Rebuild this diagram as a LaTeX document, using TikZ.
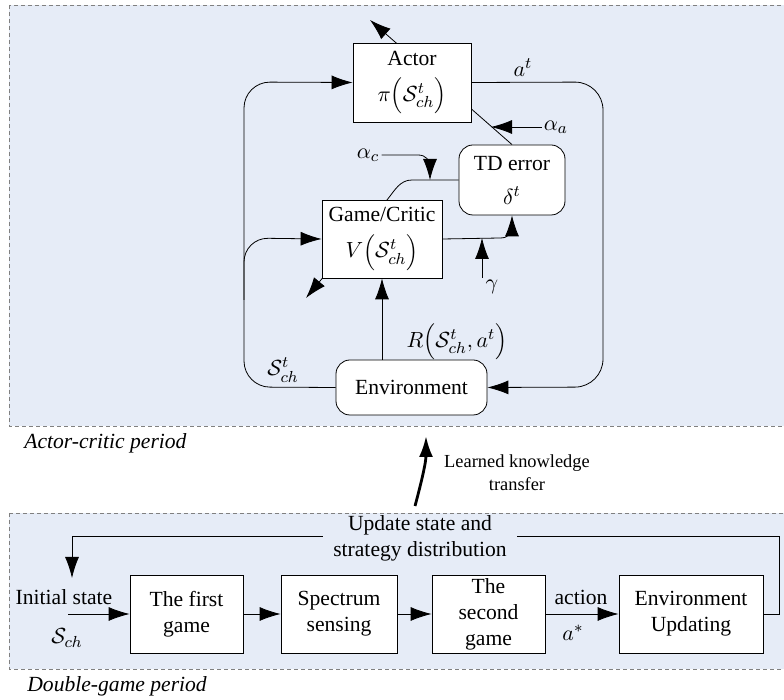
\documentclass[tikz,border=0pt]{standalone}
\usepackage{fontspec}
\setmainfont{LiberationSerif}[Extension=.ttf, UprightFont=*-Regular, ItalicFont=*-Italic, BoldFont=*-Bold, BoldItalicFont=*-BoldItalic]
\usetikzlibrary{arrows.meta}
\definecolor{panelblue}{RGB}{230,236,247}
\pgfdeclarelayer{back}
\pgfdeclarelayer{mid}
\pgfsetlayers{back,mid,main}

\begin{document}
\begin{tikzpicture}[x=0.5pt, y=-0.5pt, line width=0.9pt,
	font=\fontsize{10.8}{13}\selectfont,
	>={Latex[length=10.5pt,width=7pt]},
	panel/.style={draw=gray, fill=panelblue, dash pattern=on 2pt off 1.5pt, line width=0.4pt},
	block/.style={draw, fill=white, align=center, inner sep=1pt},
	softblock/.style={block, rounded corners=7pt},
	tag/.style={inner sep=1pt}]
		\clip (0,0) rectangle (784,700);
		\begin{pgfonlayer}{back}
		\path[panel] (9,5) rectangle (800,426);
		\path[panel] (9,513) rectangle (800,669);
		\end{pgfonlayer}

		% actor-critic period
		\path (412,82.5) node[block, minimum width=59pt, minimum height=39.5pt] (actor) {Actor\\[5pt] $\pi\Bigl(\mathcal{S}_{ch}^{t}\Bigr)$}
		(382,239) node[block, minimum width=60pt, minimum height=39pt] (critic) {Game/Critic\\[5pt] $V\Bigl(\mathcal{S}_{ch}^{t}\Bigr)$}
		(512,180) node[softblock, minimum width=53pt, minimum height=35pt] (td) {TD error\\[4pt] $\delta^{t}$}
		(411.5,387.5) node[softblock, minimum width=75.5pt, minimum height=27.5pt] (env) {Environment};

		\path (523,68) node[tag] (at) {$a^{t}$}
		(556,127) node[tag] (aa) {$\alpha_{a}$}
		(368,155) node[tag] (ac) {$\alpha_{c}$}
		(492,287) node[tag] (gam) {$\gamma$}
		(457,342) node[tag] (rew) {$R\Bigl(\mathcal{S}_{ch}^{t},a^{t}\Bigr)$}
		(283,370) node[tag] (st) {$\mathcal{S}_{ch}^{t}$}
		(22,443) node[tag, anchor=west] (acp) {\itshape Actor-critic period};

		\path (370,20) coordinate (adja)
		(306,298) coordinate (adjc)
		(491,127) coordinate (ja)
		(430,180) coordinate (jc)
		(482,238) coordinate (jg)
		(244,387) coordinate (lb)
		(244,82) coordinate (lt)
		(603,82) coordinate (rt)
		(603,387) coordinate (rb);

		\begin{pgfonlayer}{mid}
		\draw[->] (td.north) -- (adja);
		\draw[->] (td.west) -- (412,180) .. controls (400,180) and (395,190) .. (387,200) -- (adjc);
		\end{pgfonlayer}

		\draw[->] (aa.west) -- (ja);
		\draw[->] (ac.east) -- (418,155) .. controls (426,155) and (430,160) .. (430,168) -- (jc);
		\draw[->] (critic.east) -- (500,238) .. controls (508,238) and (512,234) .. (512,226) -- (td.south);
		\draw[->] (jg |- gam.north) -- (jg);
		\draw[->] (critic |- env.north) -- (critic.south);
		\draw[->, rounded corners=13pt] (env.west) -- (lb) -- (lt) -- (actor.west);
		\draw[->, rounded corners=12pt] (244,300) -- (244,238) -- (critic.west);
		\draw[->, rounded corners=14pt] (actor.east) -- (rt) -- (rb) -- (env.east);

		% knowledge transfer
		\path (517,473) node[tag, align=center, font=\fontsize{9.2}{11.5}\selectfont] (lkt) {Learned knowledge\\transfer}
		(415,506) coordinate (tr0)
		(426,436) coordinate (tr1);
		\draw[->, line width=1.4pt] (tr0) .. controls (422,480) and (426,462) .. (tr1);

		% double-game period
		\path (186.5,614) node[block, minimum width=56.5pt, minimum height=39pt] (first) {The first\\game}
		(339,614) node[block, minimum width=58pt, minimum height=39pt] (sensing) {Spectrum\\sensing}
		(488.5,614) node[block, minimum width=56.5pt, minimum height=39pt] (second) {The\\second\\game}
		(691,614) node[block, minimum width=72pt, minimum height=39pt] (envup) {Environment\\Updating};

		\path (64,597) node[tag] (init) {Initial state}
		(67,638) node[tag] (sch) {$\mathcal{S}_{ch}$}
		(581,597) node[tag] (act) {action}
		(573,633) node[tag] (astar) {$a^{*}$}
		(420,538) node[fill=panelblue, align=center, inner xsep=5pt, inner ysep=0pt] (upd) {Update state and\\strategy distribution}
		(25,686) node[tag, anchor=west] (dgp) {\itshape Double-game period};

		\path (68,614) coordinate (in)
		(779,614) coordinate (fr)
		(779,536) coordinate (fu)
		(72,536) coordinate (fl)
		(72,578) coordinate (fb);

		\draw[->] (in) -- (first.west);
		\draw[->] (first) -- (sensing);
		\draw[->] (sensing) -- (second);
		\draw[->] (second) -- (envup);
		\begin{pgfonlayer}{mid}
		\draw[->] (envup.east) -- (fr) -- (fu) -- (fl) -- (fb);
		\end{pgfonlayer}

	\end{tikzpicture}
\end{document}
